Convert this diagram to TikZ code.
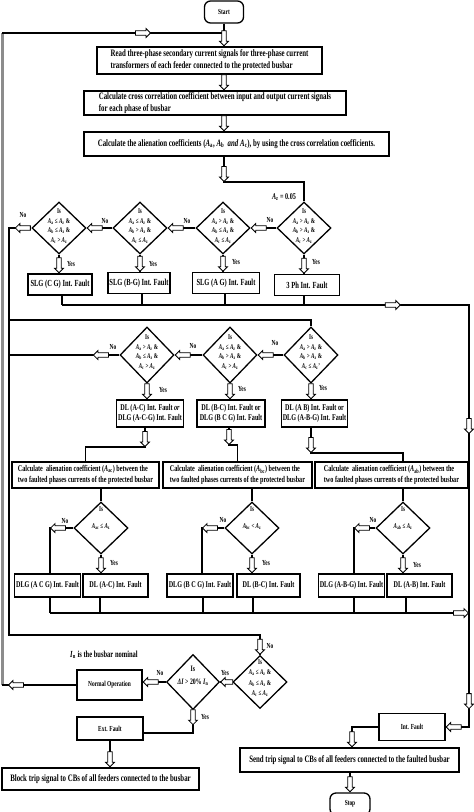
\documentclass[tikz,border=0pt]{standalone}
\usepackage{fontspec}
\setmainfont{Liberation Serif}[FakeStretch=0.7]
\usetikzlibrary{shapes.geometric,shapes.arrows}
\newcommand\Ax[1]{\textit{A}\textsubscript{#1}}
\newcommand\In{\textit{I}\textsubscript{n}}
\tikzset{
 conn/.style={line width=1.3pt, draw=black},
 sz/.style 2 args={minimum width=#1pt, minimum height=#2pt},
 box/.style={draw, line width=1.3pt, rectangle, inner sep=1.5pt, align=center, font=\bfseries\fontsize{9.3}{10.5}\selectfont},
 smallbox/.style={box, font=\bfseries\fontsize{8.8}{10.5}\selectfont},
 tinybox/.style={box, font=\bfseries\fontsize{7.7}{9}\selectfont},
 bigbox/.style={box, align=left, font=\bfseries\fontsize{9.8}{12}\selectfont},
 term/.style={box, rounded corners=6pt, font=\bfseries\fontsize{7.7}{9}\selectfont},
 dia/.style={draw, diamond, line width=1.3pt, minimum width=54pt, minimum height=52pt, inner sep=0pt},
 dtext/.style={font=\bfseries\fontsize{7.3}{9.5}\selectfont, align=center, inner sep=0pt},
 lab/.style={font=\bfseries\fontsize{7.7}{9}\selectfont, inner sep=0pt},
 harr/.style={single arrow, draw=black, fill=white, line width=0.8pt, inner sep=1.8pt, minimum height=15pt, single arrow head extend=2.3pt, single arrow head indent=0pt},
 hd/.style={harr, shape border rotate=270},
 hl/.style={harr, shape border rotate=180},
 hr/.style={harr, shape border rotate=0},
}
\begin{document}
\begin{tikzpicture}[x=1pt,y=-1pt]
\useasboundingbox (0,0) rectangle (474,812);
% ---------- top boxes
\node[term, sz={39}{22}] (start) at (224,12) {Start};
\node[bigbox, sz={225}{27}] (read) at (209.5,60.5) {Read three-phase secondary current signals for three-phase current\\transformers of each feeder connected to the protected busbar};
\node[bigbox, sz={262}{24}] (corr) at (215,103) {Calculate cross correlation coefficient between input and output current signals\\for each phase of busbar};
\node[bigbox, sz={305}{24}] (alien) at (236.5,144) {Calculate the alienation coefficients (\Ax{a},\ \Ax{b}\ \ \textit{and} \Ax{c}), by using the cross correlation coefficients.};
\node[lab, font=\bfseries\fontsize{8.8}{10}\selectfont] (az) at (284,197) {\Ax{z} = 0.05};
% ---------- row 1
\node[dia] (dCG) at (59,228) {};
\node[dtext] (tCG) at (59,226) {Is\\\Ax{a} ≤ \Ax{z} \&\\\Ax{b} ≤ \Ax{z} \&\\\Ax{c} > \Ax{z}};
\node[dia] (dBG) at (140,228) {};
\node[dtext] (tBG) at (140,226) {Is\\\Ax{a} ≤ \Ax{z} \&\\\Ax{b} > \Ax{z} \&\\\Ax{c} ≤ \Ax{z}};
\node[dia] (dAG) at (223,228) {};
\node[dtext] (tAG) at (223,226) {Is\\\Ax{a} > \Ax{z} \&\\\Ax{b} ≤ \Ax{z} \&\\\Ax{c} ≤ \Ax{z}};
\node[dia] (d3p) at (304,228) {};
\node[dtext] (t3p) at (304,226) {Is\\\Ax{a} > \Ax{z} \&\\\Ax{b} > \Ax{z} \&\\\Ax{c} > \Ax{z}};
\node[box, sz={64}{21}] (bCG) at (60,284.5) {SLG (C G) Int. Fault};
\node[box, sz={58}{21}] (bBG) at (139,283) {SLG (B-G) Int. Fault};
\node[box, sz={67}{21}] (bAG) at (226,283) {SLG (A G) Int. Fault};
\node[box, sz={65}{21}] (b3p) at (307,285) {3 Ph Int. Fault};
% ---------- row 2
\node[dia, minimum height=56pt] (dAC) at (147,355) {};
\node[dtext] (tAC) at (147,352) {Is\\\Ax{a} > \Ax{z} \&\\\Ax{b} ≤ \Ax{z} \&\\\Ax{c} > \Ax{z}};
\node[dia, minimum height=56pt] (dBC) at (230,355) {};
\node[dtext] (tBC) at (230,352) {Is\\\Ax{a} ≤ \Ax{z} \&\\\Ax{b} > \Ax{z} \&\\\Ax{c} > \Ax{z}};
\node[dia, minimum height=56pt] (dAB) at (311,355) {};
\node[dtext] (tAB) at (311,352) {Is\\\Ax{a} > \Ax{z} \&\\\Ax{b} > \Ax{z} \&\\\Ax{c} ≤ \Ax{z}'};
\node[smallbox, sz={65}{27}] (bAC) at (150,413.5) {DL (A-C) Int. Fault \textit{or}\\DLG (A-C-G) Int. Fault};
\node[smallbox, sz={68}{27}] (bBC) at (231,413.5) {DL (B-C) Int. Fault or\\DLG (B C G) Int. Fault};
\node[smallbox, sz={65}{27}] (bAB) at (314.5,413.5) {DL (A B) Int. Fault or\\DLG (A-B-G) Int. Fault};
% ---------- calc boxes
\node[smallbox, align=left, sz={147}{26}] (c1) at (85.5,475) {Calculate\ \ alienation coefficient (\Ax{ac}) between the\\two faulted phases currents of the protected busbar};
\node[smallbox, align=left, sz={149}{26}] (c2) at (237.5,475) {Calculate\ \ alienation coefficient (\Ax{bc}) between the\\two faulted phases currents of the protected busbar};
\node[smallbox, align=left, sz={153}{26}] (c3) at (391.5,475) {Calculate\ \ alienation coefficient (\Ax{ab}) between the\\two faulted phases currents of the protected busbar};
% ---------- row 3
\node[dia] (e1) at (101,528) {};
\node[dtext] (tE1) at (101,518) {Is\\[8pt]\Ax{ac} ≤ \Ax{z}};
\node[dia] (e2) at (252,528) {};
\node[dtext] (tE2) at (252,518) {Is\\[8pt]\Ax{bc} < \Ax{z}};
\node[dia] (e3) at (403,528) {};
\node[dtext] (tE3) at (403,518) {Is\\[8pt]\Ax{ab} ≤ \Ax{z}};
\node[smallbox, sz={65}{23}] (f1) at (47.5,585.5) {DLG (A C G) Int. Fault};
\node[smallbox, sz={65}{23}] (f2) at (115.5,585.5) {DL (A-C) Int. Fault};
\node[smallbox, sz={66}{23}] (f3) at (200,585.5) {DLG (B C G) Int. Fault};
\node[smallbox, sz={63}{23}] (f4) at (268.5,585.5) {DL (B-C) Int. Fault};
\node[smallbox, sz={65}{23}] (f5) at (351.5,585.5) {DLG (A-B-G) Int. Fault};
\node[smallbox, sz={65}{23}] (f6) at (419.5,585.5) {DL (A-B) Int. Fault};
% ---------- bottom
\node[dia, minimum height=53pt] (g1) at (260,682) {};
\node[dtext, font=\bfseries\fontsize{7.3}{10.5}\selectfont] (tG1) at (260,678) {Is\\\Ax{a} ≤ \Ax{z} \&\\\Ax{b} ≤ \Ax{z} \&\\\Ax{c} ≤ \Ax{z}};
\node[dia, minimum width=53pt, minimum height=55pt] (g2) at (193,682) {};
\node[dtext, font=\bfseries\fontsize{8.3}{9}\selectfont] (tG2) at (193,676) {Is\\[4pt]\textit{ΔI} > 20\% \In};
\node[lab, font=\bfseries\fontsize{9.3}{10}\selectfont] (note) at (104,655) {\In{} is the busbar nominal};
\node[tinybox, sz={65}{30}] (norm) at (109.5,685) {Normal Operation};
\node[tinybox, sz={66}{23}] (ext) at (110,728.5) {Ext. Fault};
\node[bigbox, sz={197}{22}] (block) at (100.5,779) {Block trip signal to CBs of all feeders connected to the busbar};
\node[tinybox, sz={66}{27}] (intf) at (412,727) {Int. Fault};
\node[bigbox, sz={219}{24}] (send) at (349.5,760) {Send trip signal to CBs of all feeders connected to the faulted busbar};
\node[term, sz={40}{22}] (stop) at (350,804) {Stop};
% ---------- coordinates
\coordinate (j1) at (224,182);
\coordinate (L1) at (9,228);
\coordinate (L2) at (9,320);
\coordinate (L3) at (9,355);
\coordinate (L4) at (9,635);
\coordinate (R1) at (469,305);
\coordinate (R3) at (469,613);
\coordinate (R4) at (469,727);
\coordinate (n1) at (62,305);
\coordinate (n2) at (142,305);
\coordinate (n3) at (225,305);
\coordinate (n4) at (304,305);
\coordinate (k1) at (145,447);
\coordinate (k2) at (229,445);
\coordinate (k3) at (311,453);
\coordinate (p1) at (50,528);
\coordinate (p2) at (202,528);
\coordinate (p3) at (354,528);
\coordinate (m1) at (50,613);
\coordinate (m2) at (100,613);
\coordinate (m3) at (203,613);
\coordinate (m4) at (253,613);
\coordinate (m5) at (354,613);
\coordinate (m6) at (406,613);
\coordinate (Y1) at (193,733);
\coordinate (S1) at (352,727);
\coordinate (LB) at (2,685);
\coordinate (LT) at (2,33);
% ---------- connectors: loop and top
\draw[line width=3pt, black!45] (LB) -- (LT);
\draw[conn] (norm.west) -- node[hl,pos=0.92,anchor=tip]{} (LB);
\draw[conn] (LT) -- node[hr,pos=0.63]{} (LT -| start.south);
\draw[conn] (start.south) -- node[hd,pos=1,anchor=tip]{} (start.south |- read.north);
\draw[conn] (read.south -| start.south) -- node[hd,pos=1,anchor=tip]{} (corr.north -| start.south);
\draw[conn] (corr.south -| start.south) -- node[hd,pos=1,anchor=tip]{} (alien.north -| start.south);
\draw[conn] (alien.south -| start.south) -- node[hd,pos=1,anchor=tip]{} (j1) -| (d3p.north);
% ---------- row 1
\draw[conn] (d3p.west) -- node[hl,pos=1,anchor=tip]{} (dAG.east);
\draw[conn] (dAG.west) -- node[hl,pos=1,anchor=tip]{} (dBG.east);
\draw[conn] (dBG.west) -- node[hl,pos=1,anchor=tip]{} (dCG.east);
\draw[conn] (dCG.west) -- node[hl,pos=0.74,anchor=tip]{} (L1) -- (L2) -| (dAB.north);
\node[lab] (no1) at (23,215) {No};
\node[lab] (no2) at (105,221) {No};
\node[lab] (no3) at (187,221) {No};
\node[lab] (no4) at (270,220) {No};
\draw[conn] (dCG.south) -- node[hd,pos=1,anchor=tip]{} (dCG.south |- bCG.north);
\draw[conn] (dBG.south) -- node[hd,pos=1,anchor=tip]{} (dBG.south |- bBG.north);
\draw[conn] (dAG.south) -- node[hd,pos=1,anchor=tip]{} (dAG.south |- bAG.north);
\draw[conn] (d3p.south) -- node[hd,pos=1,anchor=tip]{} (d3p.south |- b3p.north);
\node[lab] (y1) at (71,264) {Yes};
\node[lab] (y2) at (153,264) {Yes};
\node[lab] (y3) at (236,262) {Yes};
\node[lab] (y4) at (316,262) {Yes};
\draw[conn] (bCG.south -| n1) -- (n1);
\draw[conn] (bBG.south -| n2) -- (n2);
\draw[conn] (bAG.south -| n3) -- (n3);
\draw[conn] (b3p.south -| n4) -- (n4);
\draw[conn] (n1) -- node[hr,pos=0.81]{} (R1) -- node[hd,pos=0.284]{} node[hd,pos=0.936]{} (R4) -- node[hl,pos=1,anchor=tip]{} (intf.east);
% ---------- row 2
\draw[conn] (dAB.west) -- node[hl,pos=1,anchor=tip]{} (dBC.east);
\draw[conn] (dBC.west) -- node[hl,pos=1,anchor=tip]{} (dAC.east);
\draw[conn] (L2) -- (L3);
\draw[conn] (dAC.west) -- node[hl,pos=0.24,anchor=tip]{} (L3) -- (L4) -| node[hd,pos=1,anchor=tip]{} (g1.north);
\node[lab] (no5) at (275,343) {No};
\node[lab] (no6) at (193,346) {No};
\node[lab] (no7) at (113,347) {No};
\node[lab] (no8) at (270,646) {No};
\draw[conn] (dAC.south) -- node[hd,pos=1,anchor=tip]{} (dAC.south |- bAC.north);
\draw[conn] (dBC.south) -- node[hd,pos=1,anchor=tip]{} (dBC.south |- bBC.north);
\draw[conn] (dAB.south) -- node[hd,pos=1,anchor=tip]{} (dAB.south |- bAB.north);
\node[lab] (y5) at (163,390) {Yes};
\node[lab] (y6) at (242,389) {Yes};
\node[lab] (y7) at (323,388) {Yes};
\draw[conn] (bAC.south -| k1) -- node[hd,pos=1,anchor=tip]{} (k1) -| (c1.north);
\draw[conn] (bBC.south -| k2) -- node[hd,pos=1,anchor=tip]{} (k2) -| (c2.north);
\draw[conn] (bAB.south -| k3) -- node[hd,pos=1,anchor=tip]{} (k3) -| (c3.north -| e3.north);
% ---------- calc to row 3
\draw[conn] (c1.south -| e1.north) -- (e1.north);
\draw[conn] (c2.south -| e2.north) -- (e2.north);
\draw[conn] (c3.south -| e3.north) -- (e3.north);
\draw[conn] (e1.west) -- node[hl,pos=1,anchor=tip]{} (p1) -- (f1.north -| p1);
\draw[conn] (e2.west) -- node[hl,pos=1,anchor=tip]{} (p2) -- (f3.north -| p2);
\draw[conn] (e3.west) -- node[hl,pos=1,anchor=tip]{} (p3) -- (f5.north -| p3);
\node[lab] (no9) at (65,521) {No};
\node[lab] (no10) at (223,520) {No};
\node[lab] (no11) at (373,520) {No};
\draw[conn] (e1.south) -- node[hd,pos=1,anchor=tip]{} (e1.south |- f2.north);
\draw[conn] (e2.south) -- node[hd,pos=1,anchor=tip]{} (e2.south |- f4.north);
\draw[conn] (e3.south) -- node[hd,pos=1,anchor=tip]{} (e3.south |- f6.north);
\node[lab] (y8) at (114,563) {Yes};
\node[lab] (y9) at (266,563) {Yes};
\node[lab] (y10) at (417,565) {Yes};
\draw[conn] (f1.south -| m1) -- (m1);
\draw[conn] (f2.south -| m2) -- (m2);
\draw[conn] (f3.south -| m3) -- (m3);
\draw[conn] (f4.south -| m4) -- (m4);
\draw[conn] (f5.south -| m5) -- (m5);
\draw[conn] (f6.south -| m6) -- (m6);
\draw[conn] (m1) -- node[hr,pos=1,anchor=tip]{} (R3);
% ---------- bottom
\draw[conn] (g1.west) -- node[hl,pos=1,anchor=tip,minimum height=12pt]{} (g2.east);
\draw[conn] (g2.west) -- node[hl,pos=1,anchor=tip]{} (g2.west -| norm.east);
\draw[conn] (g2.south) -- node[hd,pos=0.66,anchor=tip]{} (Y1) -- (Y1 -| ext.east);
\draw[conn] (ext.south) -- node[hd,pos=1,anchor=tip]{} (ext.south |- block.north);
\draw[conn] (intf.west) -- (S1) -- node[hd,pos=1,anchor=tip]{} (S1 |- send.north);
\draw[conn] (send.south -| stop.north) -- node[hd,pos=1,anchor=tip]{} (stop.north);
\node[lab] (y11) at (225,673) {Yes};
\node[lab] (no12) at (160,673) {No};
\node[lab] (y12) at (205,717) {Yes};
\end{tikzpicture}
\end{document}
